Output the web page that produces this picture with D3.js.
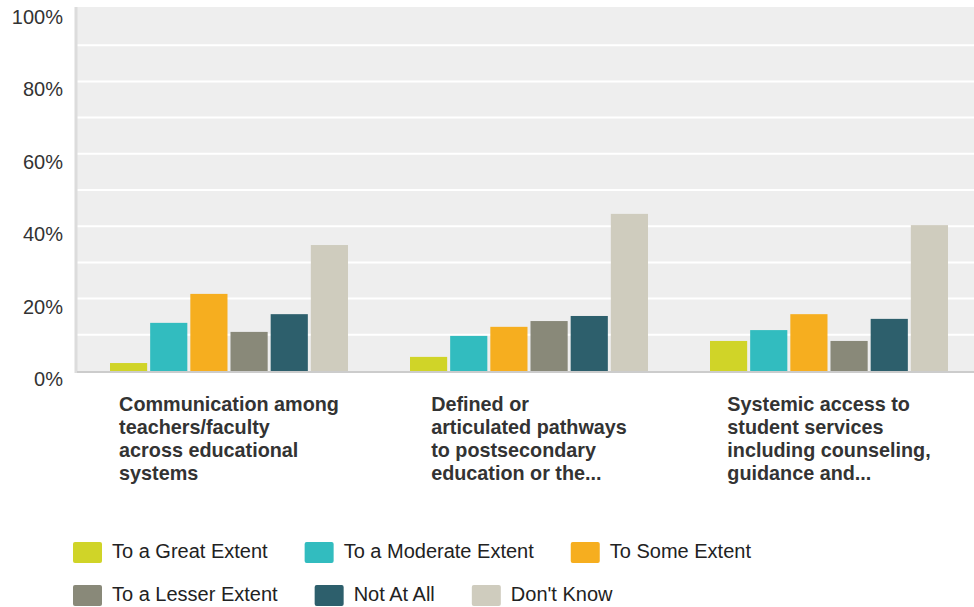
<!DOCTYPE html>
<html>
<head>
<meta charset="utf-8">
<script src="https://cdn.jsdelivr.net/npm/d3@7"></script>
<style>
  html, body { margin: 0; padding: 0; background: #ffffff; }
  svg { display: block; font-family: "Liberation Sans", Arial, Helvetica, sans-serif; }
</style>
</head>
<body>
<svg id="chart" width="974" height="607"></svg>
<script>
// ---- data ----
const categories = [
  ["Communication among", "teachers/faculty", "across educational", "systems"],
  ["Defined or", "articulated pathways", "to postsecondary", "education or the..."],
  ["Systemic access to", "student services", "including counseling,", "guidance and..."]
];
const seriesNames = ["To a Great Extent", "To a Moderate Extent", "To Some Extent",
                     "To a Lesser Extent", "Not At All", "Don't Know"];
const seriesColors = ["#d0d428", "#32bcbf", "#f6ae1f", "#898979", "#2d5f6c", "#cfccbe"];
// values per category, in series order (fractions)
const greatExtent    = [0.022, 0.039, 0.083];
const moderateExtent = [0.133, 0.097, 0.113];
const someExtent     = [0.213, 0.122, 0.157];
const lesserExtent   = [0.108, 0.138, 0.083];
const notAtAll       = [0.157, 0.152, 0.144];
const dontKnow       = [0.348, 0.434, 0.403];
const yTicks = [0, 0.2, 0.4, 0.6, 0.8, 1.0];
const yGrid = [0.1, 0.2, 0.3, 0.4, 0.5, 0.6, 0.7, 0.8, 0.9];

const seriesValues = [greatExtent, moderateExtent, someExtent, lesserExtent, notAtAll, dontKnow];

// ---- layout ----
const svg = d3.select("#chart");
const plotLeft = 77, plotRight = 974, plotTop = 7, plotBottom = 371;

const x0 = d3.scaleBand().domain(d3.range(categories.length)).range([79, 979]);
const x1 = d3.scaleBand().domain(d3.range(seriesNames.length)).range([31, 269]).paddingInner(0.075);
const y = d3.scaleLinear().domain([0, 1]).range([371, 9]);

// background
svg.append("rect").attr("x", plotLeft).attr("y", plotTop)
  .attr("width", plotRight - plotLeft).attr("height", plotBottom - plotTop)
  .attr("fill", "#eeeeee");

// gridlines
svg.append("g").selectAll("line").data(yGrid).join("line")
  .attr("x1", plotLeft).attr("x2", plotRight)
  .attr("y1", d => y(d)).attr("y2", d => y(d))
  .attr("stroke", "#ffffff").attr("stroke-width", 2);

// left axis line
svg.append("line").attr("x1", 76).attr("x2", 76).attr("y1", plotTop).attr("y2", 373)
  .attr("stroke", "#dcdcdc").attr("stroke-width", 3);

// bars
const groups = svg.append("g").selectAll("g").data(categories).join("g")
  .attr("transform", (d, i) => `translate(${x0(i)},0)`);
groups.selectAll("rect").data((d, i) => seriesValues.map((s, k) => ({k, v: s[i]}))).join("rect")
  .attr("x", d => x1(d.k)).attr("width", x1.bandwidth())
  .attr("y", d => y(d.v)).attr("height", d => y(0) - y(d.v))
  .attr("fill", d => seriesColors[d.k]);

// baseline
svg.append("line").attr("x1", plotLeft).attr("x2", plotRight).attr("y1", 372).attr("y2", 372)
  .attr("stroke", "#cccccc").attr("stroke-width", 2);

// y tick labels
svg.append("g").selectAll("text").data(yTicks).join("text")
  .attr("x", 63).attr("y", d => y(d) + 15)
  .attr("text-anchor", "end").attr("font-size", 20).attr("fill", "#333333")
  .text(d => d3.format(".0%")(d));

// x category labels (block centered, lines left-aligned)
categories.forEach((lines, i) => {
  const g = svg.append("g");
  const t = g.append("text").attr("font-size", 19.8).attr("font-weight", "bold").attr("fill", "#333333");
  t.selectAll("tspan").data(lines).join("tspan")
    .attr("x", 0).attr("y", (d, j) => 411 + j * 23).text(d => d);
  const w = t.node().getBBox().width;
  g.attr("transform", `translate(${x0(i) + x0.bandwidth() / 2 - w / 2},0)`);
});

// legend (flow layout)
const legendRows = [[0, 1, 2], [3, 4, 5]];
const legend = svg.append("g");
legendRows.forEach((row, r) => {
  let cx = 73;
  const cy = 542 + r * 43;
  row.forEach(k => {
    legend.append("rect").attr("x", cx).attr("y", cy).attr("width", 29).attr("height", 21)
      .attr("rx", 2).attr("fill", seriesColors[k]);
    const t = legend.append("text").attr("x", cx + 39).attr("y", cy + 16)
      .attr("font-size", 20).attr("fill", "#222222").text(seriesNames[k]);
    const w = t.node().getComputedTextLength();
    cx = cx + 39 + w + 37;
  });
});
</script>
</body>
</html>
